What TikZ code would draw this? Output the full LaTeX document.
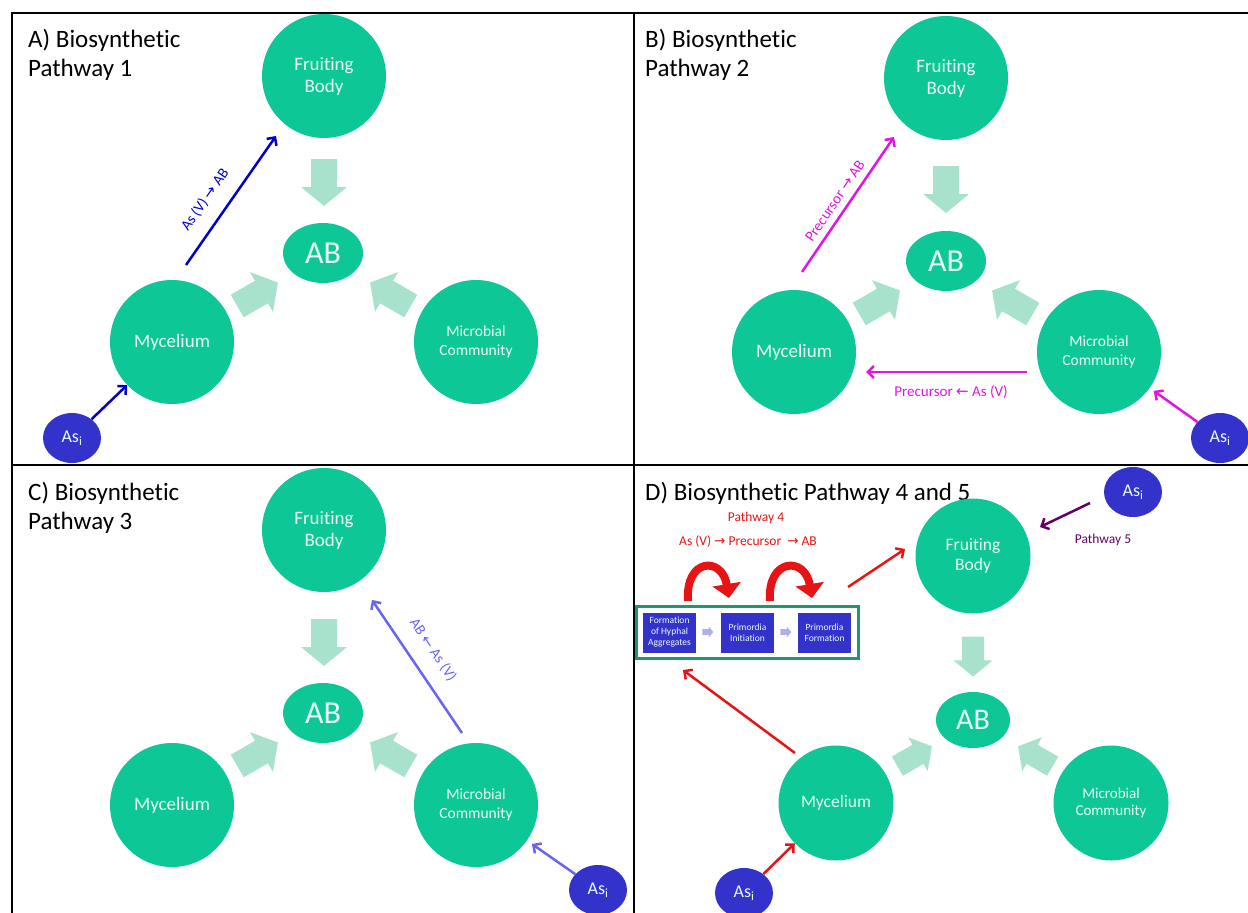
\documentclass[tikz,border=0pt]{standalone}
\usepackage{fontspec}
\setmainfont[Ligatures=NoCommon]{Carlito}
\newfontfamily\arrfont{DejaVu Sans}
\usetikzlibrary{arrows.meta,shapes.geometric}
\definecolor{circ}{RGB}{13,200,150}
\definecolor{ctext}{RGB}{232,252,244}
\definecolor{lgreen}{RGB}{168,226,204}
\definecolor{asb}{RGB}{51,51,204}
\definecolor{cblue}{RGB}{0,0,204}
\definecolor{cmag}{RGB}{225,20,225}
\definecolor{clav}{RGB}{102,102,238}
\definecolor{cred}{RGB}{230,20,20}
\definecolor{cpur}{RGB}{100,0,100}
\definecolor{boxg}{RGB}{30,150,110}
\definecolor{parr}{RGB}{175,175,235}
\newcommand\ra{{\arrfont\char"2192}}
\newcommand\la{{\arrfont\char"2190}}
\newcommand\blkarrow[5][lgreen]{\fill[#1, shift={(#2,#3)}, rotate=#4, scale=#5] (-24,-13) -- (4,-13) -- (4,-23) -- (23,0) -- (4,23) -- (4,13) -- (-24,13) -- cycle;}
\tikzset{
 big/.style={circle, fill=circ, minimum size=124pt, inner sep=0pt, text=ctext, font=\fontsize{19}{22}\selectfont, align=center},
 bigd/.style={big, minimum size=115pt, font=\fontsize{17.5}{20}\selectfont},
 abnode/.style={ellipse, fill=circ, minimum width=80pt, minimum height=60pt, inner sep=0pt, text=ctext, font=\fontsize{32}{34}\selectfont},
 abd/.style={abnode, minimum width=74pt, minimum height=56pt, font=\fontsize{30}{32}\selectfont},
 asnode/.style={ellipse, fill=asb, minimum width=58pt, minimum height=50pt, inner sep=0pt, text=ctext, font=\fontsize{18}{20}\selectfont},
 ptitle/.style={anchor=north west, align=left, font=\fontsize{25}{29}\selectfont, inner sep=0pt},
 conn/.style={line width=2.5pt, -{Straight Barb[length=6pt,width=12pt]}},
 lab/.style={font=\fontsize{15}{17}\selectfont, inner sep=0pt},
 slab/.style={font=\fontsize{13.5}{16}\selectfont, inner sep=0pt},
 procbox/.style={rectangle, fill=asb, minimum width=53pt, minimum height=40pt, inner sep=0pt, text=ctext, align=center, font=\fontsize{9.5}{11}\selectfont},
 curved/.style={cred, line width=8pt, -{Triangle[length=14pt,width=28pt]}},
}
\begin{document}
\begin{tikzpicture}[x=1pt,y=-1pt]
\useasboundingbox (0,0) rectangle (1248,913);
% frame
\draw[line width=2.5pt] (1248,13) -- (12,13) -- (12,913);
\draw[line width=2.5pt] (634,13) -- (634,913);
\draw[line width=2.5pt] (12,465) -- (1248,465);

% ---------- Panel A ----------
\node[ptitle] (tA) at (28,29) {A) Biosynthetic\\Pathway 1};
\node[big] (fbA) at (324,76) {Fruiting\\Body};
\node[abnode] (abA) at (323,253) {AB};
\node[big] (mycA) at (172,342) {Mycelium};
\node[big, font=\fontsize{15.5}{18.5}\selectfont] (micA) at (476,342) {Microbial\\Community};
\node[asnode] (asA) at (72,438) {As\textsubscript{i}};
\blkarrow{324}{183}{-90}{1}
\blkarrow{258}{294}{30}{1}
\blkarrow{390}{294}{150}{1}
\draw[conn, cblue] (asA) -- (mycA);
\coordinate (a1) at (186,265);
\coordinate (a2) at (276,136);
\draw[conn, cblue] (a1) -- (a2);
\node[lab, text=cblue, rotate=55] (lA) at (205,200) {As (V) \ra{} AB};

% ---------- Panel B ----------
\node[ptitle] (tB) at (645,29) {B) Biosynthetic\\Pathway 2};
\node[big] (fbB) at (946,78) {Fruiting\\Body};
\node[abnode] (abB) at (946,261) {AB};
\node[big] (mycB) at (794,352) {Mycelium};
\node[big, font=\fontsize{15.5}{18.5}\selectfont] (micB) at (1099,352) {Microbial\\Community};
\node[asnode] (asB) at (1220,438) {As\textsubscript{i}};
\blkarrow{946}{190}{-90}{1}
\blkarrow{880}{302}{30}{1}
\blkarrow{1012}{302}{150}{1}
\draw[conn, cmag, shorten >=5pt] (asB) -- (micB);
\coordinate (b1) at (802,272);
\coordinate (b2) at (894,137);
\draw[conn, cmag] (b1) -- (b2);
\node[lab, text=cmag, rotate=56] (lB1) at (835,201) {Precursor \ra{} AB};
\coordinate (b3) at (1027,372);
\coordinate (b4) at (866,372);
\draw[conn, cmag] (b3) -- (b4);
\node[lab, text=cmag] (lB2) at (951,392) {Precursor \la{} As (V)};

% ---------- Panel C ----------
\node[ptitle] (tC) at (28,482) {C) Biosynthetic\\Pathway 3};
\node[big] (fbC) at (324,530) {Fruiting\\Body};
\node[abnode] (abC) at (323,713) {AB};
\node[big] (mycC) at (172,805) {Mycelium};
\node[big, font=\fontsize{15.5}{18.5}\selectfont] (micC) at (476,805) {Microbial\\Community};
\node[asnode] (asC) at (598,890) {As\textsubscript{i}};
\blkarrow{324}{643}{-90}{1}
\blkarrow{258}{754}{30}{1}
\blkarrow{390}{754}{150}{1}
\draw[conn, clav, shorten >=6pt] (asC) -- (micC);
\coordinate (c1) at (462,733);
\coordinate (c2) at (372,600);
\draw[conn, clav] (c1) -- (c2);
\node[lab, text=clav, rotate=-56] (lC) at (433,650) {AB \la{} As (V)};

% ---------- Panel D ----------
\node[ptitle] (tD) at (645,482) {D) Biosynthetic Pathway 4 and 5};
\node[bigd] (fbD) at (973,556) {Fruiting\\Body};
\node[abd] (abD) at (973,720) {AB};
\node[bigd] (mycD) at (836,803) {Mycelium};
\node[bigd, font=\fontsize{15}{17.5}\selectfont] (micD) at (1111,803) {Microbial\\Community};
\node[asnode] (asD) at (744,893) {As\textsubscript{i}};
\node[asnode] (asD2) at (1133,492) {As\textsubscript{i}};
\blkarrow{973}{657}{-90}{0.85}
\blkarrow{915}{756}{30}{0.85}
\blkarrow{1035}{756}{150}{0.85}
\node[slab, text=cred] (p4) at (756,518) {Pathway 4};
\node[slab, text=cred] (p4b) at (748,541) {As (V) \ra{} Precursor \ \ra{} AB};
\node[slab, text=cpur] (p5) at (1103,540) {Pathway 5};
\node[draw=boxg, fill=white, line width=3pt, minimum width=222pt, minimum height=52pt, inner sep=0pt] (box) at (747,632) {};
\node[procbox] (pb1) at (669.5,632.5) {Formation\\of Hyphal\\Aggregates};
\node[procbox] (pb2) at (747.5,632.5) {Primordia\\Initiation};
\node[procbox] (pb3) at (824.5,632.5) {Primordia\\Formation};
\blkarrow[parr]{708}{632}{0}{0.23}
\blkarrow[parr]{786}{632}{0}{0.23}
\coordinate (r1s) at (688,601);
\coordinate (r1e) at (729,598);
\draw[curved] (r1s) .. controls (685,558) and (722,556) .. (r1e);
\coordinate (r2s) at (770,601);
\coordinate (r2e) at (812,598);
\draw[curved] (r2s) .. controls (767,558) and (805,556) .. (r2e);
\coordinate (d1) at (848,587);
\coordinate (d2) at (905,549);
\draw[conn, cred] (d1) -- (d2);
\coordinate (d3) at (795,753);
\coordinate (d4) at (683,670);
\draw[conn, cred] (d3) -- (d4);
\draw[conn, cred] (asD) -- (mycD);
\coordinate (d5) at (1090,503);
\coordinate (d6) at (1040,527);
\draw[conn, cpur] (d5) -- (d6);
\end{tikzpicture}
\end{document}
